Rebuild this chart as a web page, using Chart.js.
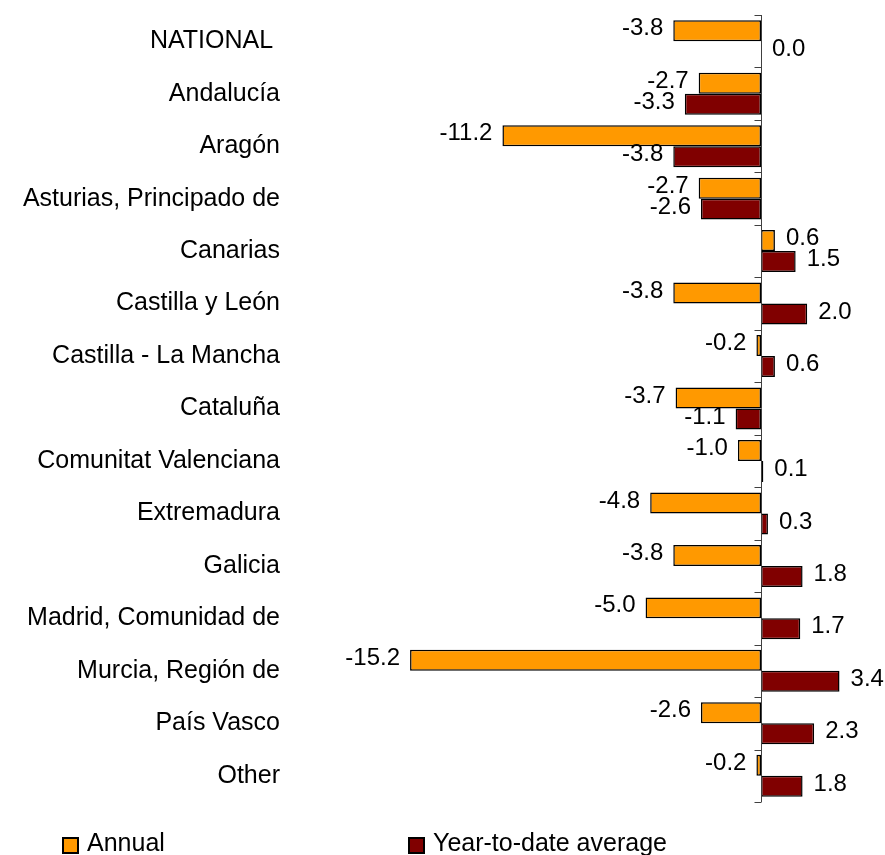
<!DOCTYPE html>
<html>
<head>
<meta charset="utf-8">
<script src="https://cdn.jsdelivr.net/npm/chart.js@4"></script>
<style>
  body { margin: 0; background: #fff; }
  #wrap { position: relative; width: 885px; height: 855px; overflow: hidden; }
  #legend { position: absolute; left: 0; top: 828px; font: 25px/28px "Liberation Sans", Arial, sans-serif; color: #000; }
  .item { position: absolute; white-space: nowrap; padding-left: 25px; }
  .box { position: absolute; left: 0; top: 9px; width: 13px; height: 13px; border: 2px solid #000; }
</style>
</head>
<body>
<div id="wrap">
  <canvas id="chart" width="885" height="855"></canvas>
  <div id="legend"></div>
</div>
<script>
// --- DATA ---
const regions = [
    'NATIONAL ', 'Andalucía', 'Aragón', 'Asturias, Principado de', 'Canarias',
    'Castilla y León', 'Castilla - La Mancha', 'Cataluña', 'Comunitat Valenciana',
    'Extremadura', 'Galicia', 'Madrid, Comunidad de', 'Murcia, Región de',
    'País Vasco', 'Other'
];
const annual = [-3.8, -2.7, -11.2, -2.7, 0.6, -3.8, -0.2, -3.7, -1.0, -4.8, -3.8, -5.0, -15.2, -2.6, -0.2];
const ytdAverage = [0.0, -3.3, -3.8, -2.6, 1.5, 2.0, 0.6, -1.1, 0.1, 0.3, 1.8, 1.7, 3.4, 2.3, 1.8];
const seriesNames = ['Annual', 'Year-to-date average'];
const seriesColors = ['#FF9900', '#800000'];

const FONT = '"Liberation Sans", Arial, sans-serif';

// --- PLUGINS ---
// zero axis line with small ticks at category boundaries
const zeroAxis = {
    id: 'zeroAxis',
    afterDatasetsDraw(chart) {
        const { ctx, chartArea, scales } = chart;
        const x0 = Math.round(scales.x.getPixelForValue(0)) + 0.5;
        ctx.save();
        ctx.strokeStyle = '#404040';
        ctx.lineWidth = 1;
        ctx.beginPath();
        ctx.moveTo(x0, chartArea.top);
        ctx.lineTo(x0, chartArea.bottom);
        for (let i = 0; i <= regions.length; i++) {
            const y = Math.round(scales.y.getPixelForValue(i - 0.5)) + 0.5;
            ctx.moveTo(x0 - 7, y);
            ctx.lineTo(x0, y);
        }
        ctx.stroke();
        ctx.restore();
    }
};

// value labels at the end of each bar
const valueLabels = {
    id: 'valueLabels',
    afterDatasetsDraw(chart) {
        const { ctx } = chart;
        ctx.save();
        ctx.font = '24px ' + FONT;
        ctx.fillStyle = '#000';
        ctx.textBaseline = 'middle';
        chart.data.datasets.forEach((ds, di) => {
            chart.getDatasetMeta(di).data.forEach((bar, i) => {
                const v = ds.data[i];
                if (v < 0) {
                    ctx.textAlign = 'right';
                    ctx.fillText(v.toFixed(1), bar.x - 10, bar.y - 2);
                } else {
                    ctx.textAlign = 'left';
                    ctx.fillText(v.toFixed(1), bar.x + 11, bar.y - 2);
                }
            });
        });
        ctx.restore();
    }
};

// --- CHART ---
const chart = new Chart(document.getElementById('chart'), {
    type: 'bar',
    data: {
        labels: regions,
        datasets: [
            { label: seriesNames[0], data: annual, backgroundColor: seriesColors[0] },
            { label: seriesNames[1], data: ytdAverage, backgroundColor: seriesColors[1] }
        ]
    },
    options: {
        indexAxis: 'y',
        responsive: false,
        animation: false,
        datasets: {
            bar: {
                borderColor: '#000',
                borderWidth: 1.5,
                borderSkipped: false,
                categoryPercentage: 0.8,
                barPercentage: 1.0
            }
        },
        layout: { padding: { top: 15, bottom: 53, left: 0, right: 27 } },
        scales: {
            x: { display: false, min: -20.4, max: 4.2 },
            y: {
                grid: { display: false, drawTicks: false },
                border: { display: false },
                ticks: { color: '#000', padding: 10, font: { size: 25, family: FONT } },
                afterFit(scale) {
                    scale.width = 290;
                    scale.paddingTop = 0;
                    scale.paddingBottom = 0;
                }
            }
        },
        plugins: {
            legend: { display: false },
            tooltip: { enabled: false }
        }
    },
    plugins: [zeroAxis, valueLabels]
});

// --- LEGEND ---
const legendEl = document.getElementById('legend');
const legendX = [62, 408];
chart.data.datasets.forEach((ds, i) => {
    const item = document.createElement('div');
    item.className = 'item';
    item.style.left = legendX[i] + 'px';
    item.innerHTML = `<span class="box" style="background:${ds.backgroundColor}"></span>${ds.label}`;
    legendEl.appendChild(item);
});
</script>
</body>
</html>
